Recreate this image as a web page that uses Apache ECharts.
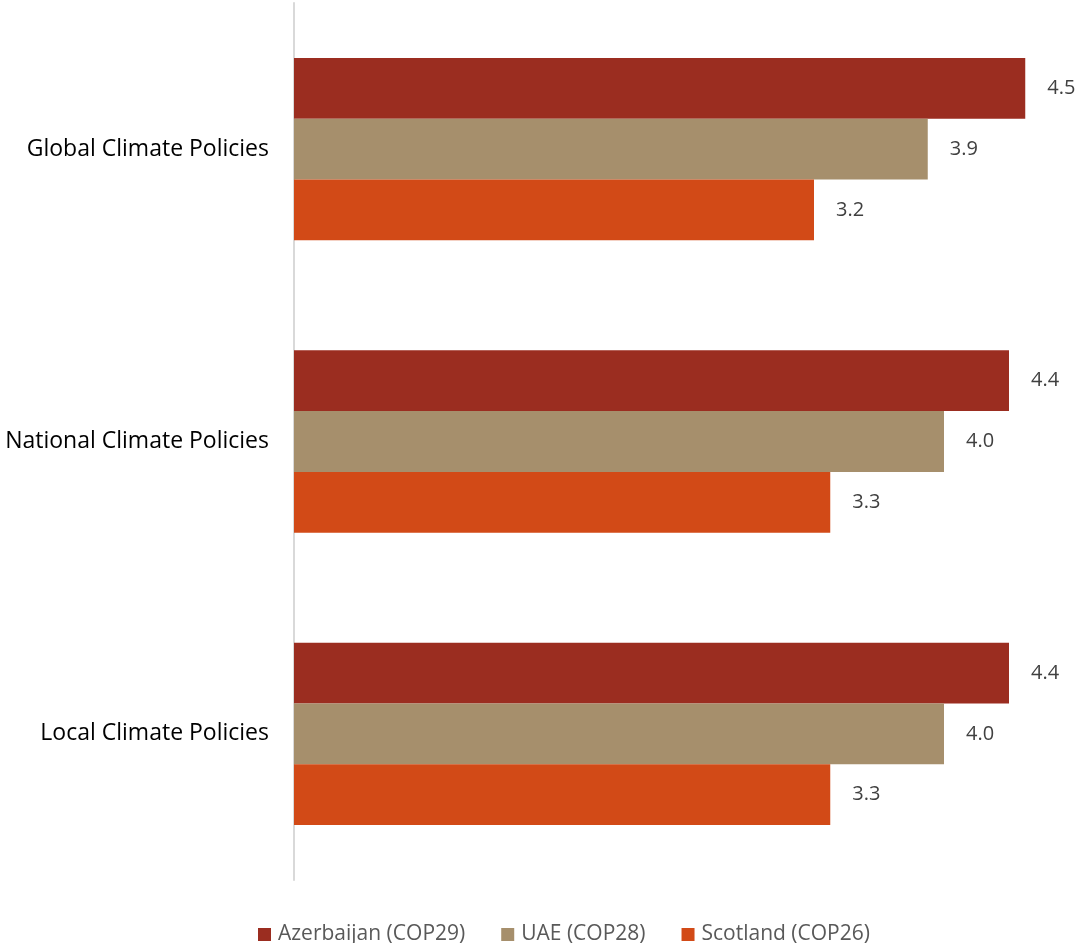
<!DOCTYPE html>
<html>
<head>
<meta charset="utf-8">
<style>
  html, body { margin: 0; padding: 0; background: #ffffff; }
  #chart { width: 1078px; height: 943px; }
</style>
<script src="https://cdn.jsdelivr.net/npm/echarts@6/dist/echarts.min.js"></script>
</head>
<body>
<div id="chart"></div>
<script>
// Policy categories, listed top to bottom
const categories = ['Global Climate Policies', 'National Climate Policies', 'Local Climate Policies'];

// Mean scores for each conference
const seriesNames = ['Azerbaijan (COP29)', 'UAE (COP28)', 'Scotland (COP26)'];
const azerbaijan = [4.5, 4.4, 4.4];
const uae = [3.9, 4.0, 4.0];
const scotland = [3.2, 3.3, 3.3];

const colors = ['#9B2D20', '#A68F6C', '#D24A17'];
const font = '"Open Sans", sans-serif';

const chart = echarts.init(document.getElementById('chart'));

const values = [azerbaijan, uae, scotland];
const series = seriesNames.map((name, i) => ({
  name: name,
  type: 'bar',
  data: values[i],
  barGap: '0%',
  barCategoryGap: '37.6%',
  itemStyle: { color: colors[i] },
  label: {
    show: true,
    position: 'right',
    distance: 22,
    formatter: p => p.value.toFixed(1),
    color: '#404040',
    fontSize: 20,
    fontFamily: font
  }
}));

chart.setOption({
  animation: false,
  color: colors,
  grid: { left: 294, top: 3, bottom: 63, right: 4, containLabel: false },
  xAxis: {
    type: 'value',
    min: 0,
    max: 4.8,
    axisLabel: { show: false },
    axisLine: { show: false },
    axisTick: { show: false },
    splitLine: { show: false }
  },
  yAxis: {
    type: 'category',
    inverse: true,
    data: categories,
    axisLine: { show: true, lineStyle: { color: '#D9D9D9', width: 2 } },
    axisTick: { show: false },
    axisLabel: { color: '#000000', fontSize: 23, fontFamily: font, margin: 25 }
  },
  legend: {
    bottom: -7,
    left: 253,
    itemWidth: 13,
    itemHeight: 13,
    itemGap: 36,
    icon: 'rect',
    textStyle: { color: '#595959', fontSize: 21, fontFamily: font, padding: [0, 0, 0, 2] },
    data: seriesNames
  },
  series: series
});
</script>
</body>
</html>
